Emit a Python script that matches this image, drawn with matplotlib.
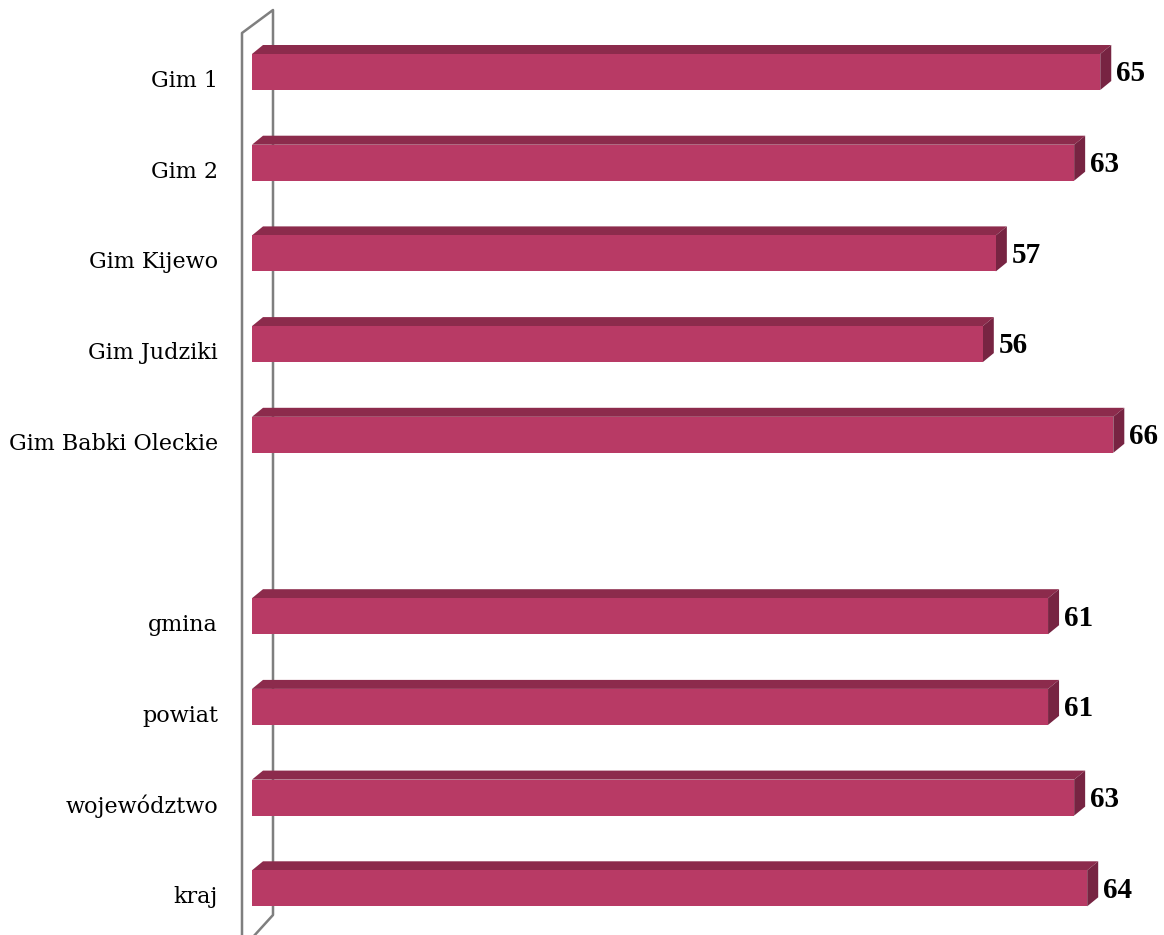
import numpy as np
import matplotlib.pyplot as plt
from matplotlib.patches import Polygon

# Data
categories = ['Gim 1', 'Gim 2', 'Gim Kijewo', 'Gim Judziki', 'Gim Babki Oleckie',
              '', 'gmina', 'powiat', 'województwo', 'kraj']
values = [65, 63, 57, 56, 66, None, 61, 61, 63, 64]

front_col = '#B83A65'
top_col = '#8C2B4C'
side_col = '#772442'
wall_col = '#7F7F7F'

W, H = 1164, 935
fig = plt.figure(figsize=(W / 100, H / 100), dpi=100)
x0_px, px_per_unit = 252, 13.05
ax = fig.add_axes([x0_px / W, 0, 1 - x0_px / W, 1])
ax.set_xlim(0, (W - x0_px) / px_per_unit)
row_px, first_px = 90.7, 72
ax.set_ylim((H - first_px) / row_px, -first_px / row_px)
ax.axis('off')

# depth offsets (data units)
dx = 11 / px_per_unit
dy = 9 / row_px
bh = 36 / row_px

for i, (cat, v) in enumerate(zip(categories, values)):
    if cat:
        ax.text(-34 / px_per_unit, i + 0.1, cat, ha='right', va='center',
                fontsize=16, family='DejaVu Serif', clip_on=False)
    if v is None:
        continue
    top, bot = i - bh / 2, i + bh / 2
    ax.add_patch(Polygon([(0, top), (v, top), (v + dx, top - dy), (dx, top - dy)],
                         closed=True, fc=top_col, ec='none'))
    ax.add_patch(Polygon([(v, top), (v + dx, top - dy), (v + dx, bot - dy), (v, bot)],
                         closed=True, fc=side_col, ec='none'))
    ax.add_patch(Polygon([(0, top), (v, top), (v, bot), (0, bot)],
                         closed=True, fc=front_col, ec='none'))
    ax.text(v + dx + 5 / px_per_unit, i + 0.02, str(v), ha='left', va='center',
            fontsize=21, fontweight='bold', family='Liberation Serif')

# side wall outline
wl = -10 / px_per_unit
wr = 21 / px_per_unit
y_top_l = -(first_px - 33) / row_px
y_top_r = -(first_px - 10) / row_px
y_bot_r = (915 - first_px) / row_px
y_bot_l = (H + 5 - first_px) / row_px
ax.plot([wl, wl, wr, wr, wl], [y_bot_l, y_top_l, y_top_r, y_bot_r, y_bot_l + 0.1],
        color=wall_col, lw=1.8, clip_on=False, zorder=0)

fig.savefig('out.png', dpi=100)
